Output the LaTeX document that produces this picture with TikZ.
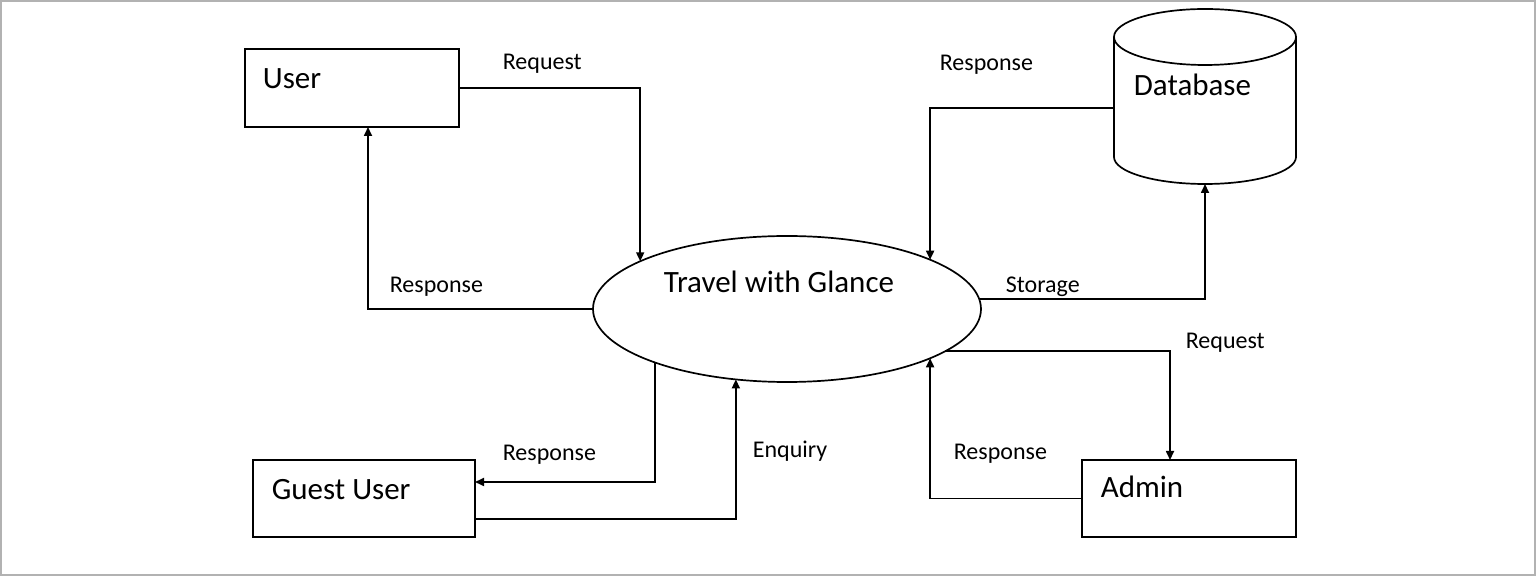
\documentclass[tikz,border=0pt]{standalone}
\usepackage{fontspec}
\setmainfont{Carlito}
\usetikzlibrary{shapes.geometric,arrows.meta}
\begin{document}
\begin{tikzpicture}[x=0.5pt,y=0.5pt,
  line width=0.85pt,
  boxnode/.style={draw, rectangle, inner sep=0pt, outer sep=0pt},
  bigtext/.style={inner sep=0pt, anchor=base west, font=\fontsize{15.5}{18}\selectfont},
  flowlbl/.style={inner sep=0pt, anchor=base west, font=\fontsize{12}{14}\selectfont},
  flow/.style={-{Triangle[length=4.5pt,width=4pt]}}
]
\useasboundingbox (0,0) rectangle (1536,-576);
\draw[line width=0.8pt, gray!60] (1,-1) rectangle (1535,-575);

% nodes
\node[boxnode, minimum width=107pt, minimum height=39pt] (user) at (352,-88) {};
\node[boxnode, minimum width=111pt, minimum height=38.5pt] (guest) at (364,-498.5) {};
\node[boxnode, minimum width=107pt, minimum height=38.5pt] (admin) at (1189,-498.5) {};
\node[draw, ellipse, inner sep=0pt, outer sep=0pt, minimum width=194pt, minimum height=73pt] (tg) at (787,-309) {};
\node[inner sep=0pt, outer sep=0pt, minimum width=91pt, minimum height=87.5pt] (db) at (1205,-96.5) {};
% cylinder
\draw (db.west |- 0,-37) -- (db.west |- 0,-157)
  arc[start angle=180, end angle=360, x radius=91, y radius=27]
  -- (db.east |- 0,-37);
\draw (1205,-37) ellipse[x radius=91, y radius=28];

% texts
\node[bigtext] (userT) at (262,-89) {User};
\node[bigtext] (dbT) at (1133,-96) {Database};
\node[bigtext] (tgT) at (663,-293) {Travel with Glance};
\node[bigtext] (guestT) at (271,-500) {Guest User};
\node[bigtext] (adminT) at (1100,-498) {Admin};

% connectors
\draw[flow] (user.east) -| (tg.162.3);
\draw[flow] (tg.west) -| ([xshift=8pt]user.south);
\draw[flow] ([yshift=-5.75pt]db.west) -| (tg.19.6);
\draw[flow] (tg.3.6) -| (db.south);
\draw[flow] (tg.-15.75) -| ([xshift=-9.5pt]admin.north);
\draw[flow] (admin.west) -| (tg.-19.3);
\draw[flow] (tg.202.3) |- ([yshift=8.25pt]guest.east);
\draw[flow] ([yshift=-10.25pt]guest.east) -| (tg.234.1);

% labels
\node[flowlbl] (l1) at (502,-70) {Request};
\node[flowlbl] (l2) at (389,-293) {Response};
\node[flowlbl] (l3) at (939,-71) {Response};
\node[flowlbl] (l4) at (1005,-293) {Storage};
\node[flowlbl] (l5) at (1185,-349) {Request};
\node[flowlbl] (l6) at (953,-460) {Response};
\node[flowlbl] (l7) at (502,-461) {Response};
\node[flowlbl] (l8) at (752,-458) {Enquiry};
\end{tikzpicture}
\end{document}
